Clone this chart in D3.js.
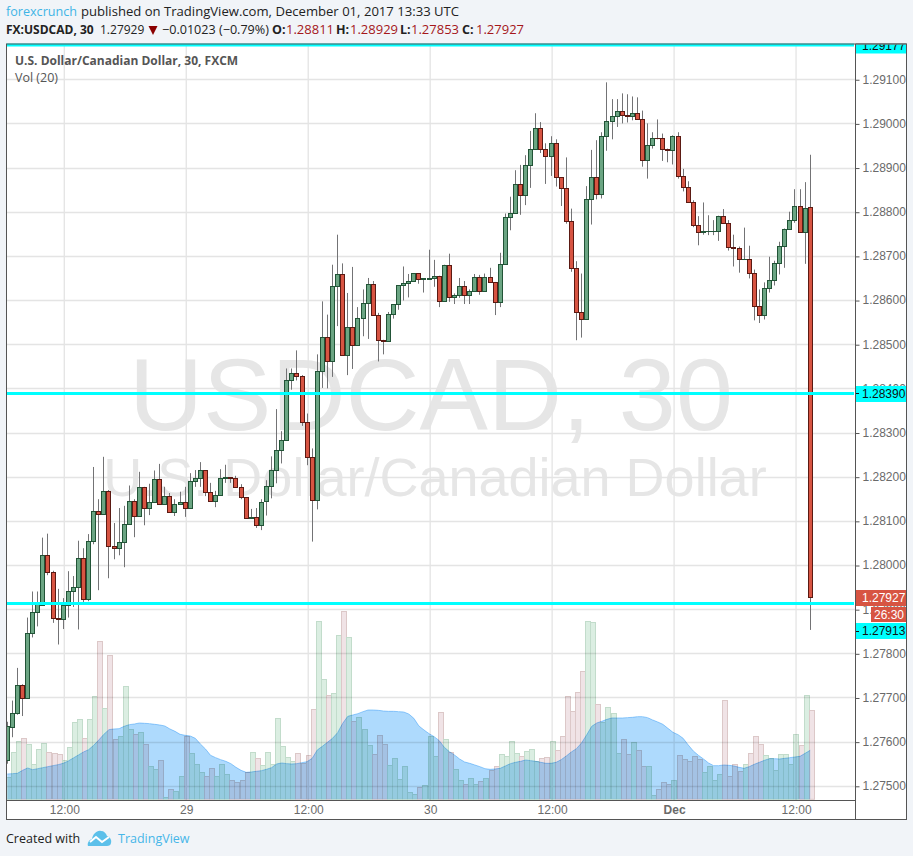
<!DOCTYPE html>
<html><head><meta charset="utf-8">
<script src="https://cdn.jsdelivr.net/npm/d3@7"></script>
<style>
html,body{margin:0;padding:0;background:#f1f4f8}
svg{display:block}
text{font-family:"Open Sans",sans-serif}
.ax text{font-family:"Liberation Sans",Arial,sans-serif}
</style></head><body><div id="c"></div>
<script>
const opens=[1.27558,1.27634,1.27664,1.27728,1.27699,1.27846,1.27893,1.27910,1.28023,1.27984,
1.27880,1.27878,1.27909,1.27941,1.27950,1.28016,1.27923,1.28054,1.28122,1.28115,
1.28167,1.28043,1.28038,1.28052,1.28093,1.28145,1.28111,1.28177,1.28129,1.28143,
1.28195,1.28138,1.28156,1.28120,1.28138,1.28143,1.28129,1.28190,1.28197,1.28215,
1.28165,1.28145,1.28158,1.28197,1.28199,1.28197,1.28177,1.28154,1.28106,1.28109,
1.28090,1.28144,1.28178,1.28214,1.28260,1.28284,1.28419,1.28435,1.28428,1.28324,
1.28244,1.28148,1.28440,1.28517,1.28462,1.28632,1.28659,1.28476,1.28539,1.28498,
1.28560,1.28594,1.28637,1.28566,1.28510,1.28507,1.28569,1.28591,1.28634,1.28639,
1.28643,1.28661,1.28648,1.28648,1.28650,1.28655,1.28598,1.28680,1.28607,1.28612,
1.28632,1.28612,1.28621,1.28652,1.28621,1.28652,1.28641,1.28596,1.28682,1.28787,
1.28796,1.28862,1.28837,1.28905,1.28943,1.28989,1.28943,1.28927,1.28955,1.28878,
1.28853,1.28778,1.28672,1.28572,1.28558,1.28828,1.28878,1.28841,1.28971,1.29005,
1.29016,1.29027,1.29020,1.29016,1.29023,1.29009,1.28916,1.28952,1.28968,1.28966,
1.28941,1.28939,1.28971,1.28880,1.28857,1.28823,1.28771,1.28753,1.28756,1.28756,
1.28757,1.28791,1.28775,1.28721,1.28717,1.28693,1.28694,1.28662,1.28587,1.28567,
1.28628,1.28646,1.28683,1.28723,1.28762,1.28782,1.28814,1.28755,1.28811];
const highs=[1.27645,1.27693,1.27767,1.27730,1.27881,1.27940,1.27940,1.28062,1.28071,1.27987,
1.27946,1.27925,1.27986,1.27975,1.28055,1.28038,1.28070,1.28222,1.28149,1.28245,
1.28170,1.28095,1.28129,1.28134,1.28180,1.28149,1.28211,1.28177,1.28184,1.28214,
1.28229,1.28177,1.28163,1.28149,1.28166,1.28177,1.28208,1.28215,1.28233,1.28215,
1.28186,1.28168,1.28217,1.28227,1.28199,1.28202,1.28183,1.28154,1.28127,1.28129,
1.28149,1.28192,1.28246,1.28353,1.28303,1.28445,1.28445,1.28486,1.28430,1.28343,
1.28264,1.28477,1.28597,1.28567,1.28680,1.28748,1.28683,1.28616,1.28675,1.28584,
1.28624,1.28650,1.28643,1.28571,1.28510,1.28573,1.28591,1.28634,1.28676,1.28659,
1.28661,1.28661,1.28649,1.28714,1.28691,1.28655,1.28680,1.28705,1.28615,1.28650,
1.28643,1.28624,1.28659,1.28657,1.28660,1.28673,1.28641,1.28707,1.28796,1.28834,
1.28894,1.28906,1.28928,1.28983,1.29023,1.29003,1.28955,1.28971,1.28964,1.28878,
1.28923,1.28807,1.28688,1.28660,1.28858,1.28940,1.28962,1.28980,1.29093,1.29055,
1.29055,1.29068,1.29066,1.29061,1.29059,1.29029,1.29000,1.28980,1.29009,1.28977,
1.28943,1.28973,1.28980,1.28897,1.28869,1.28826,1.28790,1.28821,1.28792,1.28781,
1.28791,1.28806,1.28781,1.28748,1.28721,1.28764,1.28723,1.28669,1.28624,1.28640,
1.28698,1.28689,1.28732,1.28762,1.28800,1.28851,1.28851,1.28867,1.28929];
const lows=[1.27550,1.27610,1.27661,1.27658,1.27699,1.27836,1.27861,1.27910,1.27977,1.27869,
1.27820,1.27855,1.27881,1.27905,1.27854,1.27914,1.27918,1.28047,1.27943,1.28115,
1.27970,1.28013,1.28022,1.27995,1.28093,1.28063,1.28111,1.28090,1.28113,1.28143,
1.28138,1.28138,1.28120,1.28111,1.28138,1.28109,1.28127,1.28177,1.28177,1.28156,
1.28145,1.28131,1.28158,1.28186,1.28186,1.28177,1.28149,1.28106,1.28106,1.28084,
1.28079,1.28112,1.28151,1.28185,1.28230,1.28284,1.28397,1.28418,1.28315,1.28226,
1.28053,1.28126,1.28401,1.28400,1.28426,1.28541,1.28476,1.28430,1.28444,1.28498,
1.28518,1.28512,1.28566,1.28461,1.28477,1.28507,1.28558,1.28578,1.28599,1.28606,
1.28643,1.28637,1.28617,1.28646,1.28630,1.28584,1.28598,1.28596,1.28591,1.28605,
1.28591,1.28591,1.28621,1.28612,1.28621,1.28641,1.28566,1.28584,1.28681,1.28758,
1.28796,1.28793,1.28815,1.28854,1.28943,1.28933,1.28863,1.28881,1.28857,1.28813,
1.28773,1.28664,1.28509,1.28515,1.28556,1.28771,1.28828,1.28830,1.28938,1.28964,
1.28992,1.29000,1.29002,1.29007,1.29009,1.28902,1.28875,1.28943,1.28964,1.28915,
1.28912,1.28907,1.28875,1.28846,1.28821,1.28765,1.28724,1.28748,1.28747,1.28747,
1.28734,1.28775,1.28712,1.28676,1.28662,1.28692,1.28649,1.28554,1.28548,1.28556,
1.28617,1.28633,1.28658,1.28673,1.28762,1.28775,1.28755,1.28682,1.27853];
const closes=[1.27635,1.27664,1.27728,1.27699,1.27846,1.27893,1.27914,1.28023,1.27984,1.27880,
1.27878,1.27909,1.27941,1.27950,1.28016,1.27923,1.28054,1.28122,1.28115,1.28167,
1.28043,1.28038,1.28052,1.28093,1.28145,1.28111,1.28177,1.28129,1.28143,1.28195,
1.28138,1.28156,1.28120,1.28138,1.28143,1.28129,1.28190,1.28197,1.28215,1.28165,
1.28145,1.28158,1.28197,1.28199,1.28197,1.28177,1.28154,1.28106,1.28109,1.28090,
1.28143,1.28178,1.28214,1.28260,1.28284,1.28418,1.28435,1.28428,1.28324,1.28244,
1.28148,1.28440,1.28517,1.28462,1.28632,1.28659,1.28476,1.28539,1.28498,1.28560,
1.28594,1.28637,1.28566,1.28510,1.28507,1.28569,1.28591,1.28634,1.28639,1.28643,
1.28661,1.28648,1.28649,1.28650,1.28655,1.28598,1.28680,1.28607,1.28612,1.28632,
1.28612,1.28621,1.28652,1.28621,1.28652,1.28641,1.28596,1.28682,1.28787,1.28796,
1.28862,1.28837,1.28905,1.28943,1.28989,1.28943,1.28927,1.28955,1.28878,1.28853,
1.28778,1.28672,1.28572,1.28558,1.28828,1.28878,1.28841,1.28971,1.29005,1.29016,
1.29027,1.29020,1.29016,1.29023,1.29009,1.28916,1.28952,1.28968,1.28966,1.28941,
1.28939,1.28971,1.28880,1.28857,1.28823,1.28771,1.28753,1.28757,1.28757,1.28757,
1.28791,1.28775,1.28721,1.28717,1.28694,1.28694,1.28662,1.28587,1.28567,1.28628,
1.28646,1.28683,1.28723,1.28762,1.28782,1.28814,1.28755,1.28809,1.27927];
const volumes=[68,141,174,183,165,105,150,168,141,138,
135,117,156,231,240,183,240,309,474,273,
432,180,189,339,210,195,201,165,99,90,
117,6,30,24,69,189,138,105,81,69,
93,69,105,75,57,51,57,81,141,123,
102,141,105,243,159,126,114,138,108,132,
270,534,360,312,318,492,564,486,234,246,
210,162,135,192,165,102,123,60,99,21,
15,36,42,189,129,261,180,141,90,57,
45,63,45,54,63,87,99,135,129,174,
138,129,144,150,114,123,126,174,147,189,
309,264,321,384,534,531,285,231,276,258,
138,180,135,171,147,99,99,12,30,51,
45,57,132,120,114,129,120,81,99,57,
75,297,69,105,84,105,138,189,165,132,
123,87,135,135,105,195,162,312,267];
const volumeMA=[76,77,78,87,94,89,92,95,98,101,
104,108,115,124,133,142,149,162,178,195,
209,211,212,219,224,226,229,228,227,225,
223,220,211,204,195,192,190,183,166,151,
132,125,119,114,107,96,87,81,82,84,
86,90,95,106,109,107,106,107,110,113,
123,148,159,171,183,200,228,249,253,257,
263,268,268,267,265,264,264,263,262,256,
243,220,208,197,188,176,156,143,133,121,
112,108,103,98,92,90,91,93,100,107,
111,114,118,116,114,111,108,108,111,119,
130,142,152,169,193,219,229,234,240,244,
244,244,245,246,248,248,245,238,232,225,
213,201,194,183,163,145,132,121,109,101,
101,103,102,100,96,93,98,105,111,117,
122,122,121,123,125,127,129,138,147];
const priceTicks=[1.291,1.290,1.289,1.288,1.287,1.286,1.285,1.284,1.283,1.282,1.281,1.280,1.279,1.278,1.277,1.276,1.275];
const timeTickIndex=[11,35,59,83,107,131,155];
const timeTickLabels=['12:00','29','12:00','30','12:00','Dec','12:00'];
const levels=[1.29177,1.28390,1.27913];

const W=913,H=856;
const L=6.5,R=855.5,RO=906.5,T=44,B=800.5,BO=819.5;
const x=d3.scaleLinear().domain([0,158]).range([7.3,810.2]);
const y=d3.scaleLinear().domain([1.275,1.29]).range([785.8,123.4]);
const v=d3.scaleLinear().domain([0,600]).range([799.3,599.3]);
const idx=d3.range(closes.length);
const GREEN='#6ba583',GREENB='#225437',RED='#d75442',REDB='#5b1a13',WICK='#737375';
const up=i=>closes[i]>=opens[i];
const fmt=d3.format('.5f');

const svg=d3.select('#c').append('svg').attr('width',W).attr('height',H);
svg.append('rect').attr('width',W).attr('height',H).attr('fill','#f1f4f8');
svg.append('rect').attr('x',L).attr('y',T).attr('width',RO-L).attr('height',BO-T).attr('fill','#fff');
const defs=svg.append('defs');
defs.append('clipPath').attr('id','plot').append('rect').attr('x',L+.5).attr('y',T).attr('width',R-L-.5).attr('height',B-T);
const plot=svg.append('g').attr('clip-path','url(#plot)').style('isolation','isolate');
plot.append('rect').attr('x',L).attr('y',T).attr('width',R-L).attr('height',B-T).attr('fill','#fff');

// watermark
plot.append('text').attr('x',431).attr('y',430).attr('text-anchor','middle')
 .style('font-family','"Liberation Sans",Arial,sans-serif').style('font-size','102.5px').attr('fill','#e6e6e6').text('USDCAD, 30');
plot.append('text').attr('x',435).attr('y',496).attr('text-anchor','middle')
 .style('font-family','"Liberation Sans",Arial,sans-serif').style('font-size','54px').attr('fill','#e6e6e6').text('U.S. Dollar/Canadian Dollar');

// grid
plot.append('g').selectAll('line').data(priceTicks).join('line')
 .attr('x1',L).attr('x2',R).attr('y1',d=>Math.round(y(d))+.5).attr('y2',d=>Math.round(y(d))+.5)
 .attr('stroke','#e4e4e4').attr('stroke-width',1.3);
plot.append('g').selectAll('line').data(timeTickIndex).join('line')
 .attr('y1',T).attr('y2',B).attr('x1',d=>x(d)+1.1).attr('x2',d=>x(d)+1.1)
 .attr('stroke','#e4e4e4').attr('stroke-width',1.3);

// volume MA area
const area=d3.area().x(i=>x(i)).y0(v(0)).y1(i=>v(volumeMA[i]));
plot.append('path').datum(idx).attr('d',area).attr('fill','#aedafd').style('mix-blend-mode','multiply');
plot.append('path').datum(idx).attr('d',d3.line().x(i=>x(i)).y(i=>v(volumeMA[i]))).attr('fill','none').attr('stroke','#9fd3fb').attr('stroke-width',1).style('mix-blend-mode','multiply');

// volume bars
plot.append('g').style('mix-blend-mode','multiply').selectAll('rect').data(idx).join('rect')
 .attr('x',i=>Math.floor(x(i))-.5).attr('width',5)
 .attr('y',i=>Math.round(v(volumes[i]))+.5).attr('height',i=>Math.max(0,v(0)-Math.round(v(volumes[i]))-.5))
 .attr('fill',i=>up(i)?'#dbeee2':'#f0e3e6')
 .attr('stroke',i=>up(i)?'#c2dccb':'#dcc8c8').attr('stroke-width',1);

// candles
const cg=plot.append('g');
cg.selectAll('rect.w').data(idx).join('rect').attr('class','w')
 .attr('x',i=>Math.floor(x(i))).attr('width',1)
 .attr('y',i=>y(highs[i])).attr('height',i=>y(lows[i])-y(highs[i])).attr('fill',WICK);
cg.selectAll('rect.b').data(idx).join('rect').attr('class','b')
 .attr('x',i=>Math.floor(x(i))-1.5).attr('width',4)
 .attr('y',i=>Math.round(y(Math.max(opens[i],closes[i])))+.5)
 .attr('height',i=>Math.max(.01,Math.round(y(Math.min(opens[i],closes[i])))-Math.round(y(Math.max(opens[i],closes[i])))))
 .attr('fill',i=>up(i)?GREEN:RED).attr('stroke',i=>up(i)?GREENB:REDB).attr('stroke-width',1);

// horizontal levels
const levelY=d=>Math.round(y(d))+.5;
plot.append('g').selectAll('line').data(levels.slice(1)).join('line')
 .attr('x1',L).attr('x2',R-1.5).attr('y1',levelY).attr('y2',levelY).attr('stroke','#00ffff').attr('stroke-width',3);
svg.append('line').attr('x1',L).attr('x2',R-1.5).attr('y1',45).attr('y2',45).attr('stroke','#00ffff').attr('stroke-width',3);

// frame
const frame=svg.append('g').attr('fill','none').attr('stroke','#555');
frame.append('rect').attr('x',L).attr('y',T).attr('width',RO-L).attr('height',BO-T);
frame.append('line').attr('x1',R).attr('x2',R).attr('y1',T).attr('y2',BO);
frame.append('line').attr('x1',L).attr('x2',R).attr('y1',B).attr('y2',B);

// axes
const yAxis=d3.axisRight(y).tickValues(priceTicks).tickSize(4).tickPadding(3).tickFormat(fmt);
const ya=svg.append('g').attr('class','ax').attr('transform',`translate(${R},0)`).call(yAxis);
ya.select('.domain').remove();
ya.selectAll('line').attr('stroke','#555').attr('y1',.5).attr('y2',.5);
ya.selectAll('text').style('font-size','12px').attr('fill','#6a6a6a');
const xAxis=d3.axisBottom(x).tickValues(timeTickIndex).tickSize(0).tickPadding(5).tickFormat((d,i)=>timeTickLabels[i]);
const xa=svg.append('g').attr('class','ax').attr('transform',`translate(1.1,${B})`).call(xAxis);
xa.select('.domain').remove();
xa.selectAll('text').style('font-size','12px').attr('fill','#6a6a6a').style('font-weight',(d,i)=>timeTickLabels[i]==='Dec'?'bold':'normal');

// price labels on the scale
function tag(x0,x1,y0,y1,fill,txt,col,tx){
 svg.append('rect').attr('x',x0).attr('y',y0).attr('width',x1-x0).attr('height',y1-y0).attr('fill',fill);
 svg.append('text').attr('x',tx).attr('y',(y0+y1)/2+4.3).attr('fill',col)
  .style('font-family','"Liberation Sans",Arial,sans-serif').style('font-size','12px').text(txt);
}
tag(856,906,386,402,'#00ffff',fmt(levels[1]),'#111',862);
tag(856,906,590,606,'#d75442',fmt(closes[158]),'#fff',862);
tag(871,906,607,622,'#d75442','26:30','#fff',874);
tag(856,906,623,639,'#00ffff',fmt(levels[2]),'#111',862);
svg.append('line').attr('x1',856).attr('x2',859).attr('y1',393.5).attr('y2',393.5).attr('stroke','#111');
svg.append('line').attr('x1',856).attr('x2',859).attr('y1',631.5).attr('y2',631.5).attr('stroke','#111');
svg.append('rect').attr('x',856).attr('y',44.5).attr('width',50).attr('height',9).attr('fill','#00ffff');
defs.append('clipPath').attr('id','topTag').append('rect').attr('x',856).attr('y',44.5).attr('width',50).attr('height',9);
svg.append('text').attr('x',862).attr('y',49.5).attr('clip-path','url(#topTag)').attr('fill','#111')
 .style('font-family','"Liberation Sans",Arial,sans-serif').style('font-size','12px').text(fmt(levels[0]));
svg.append('line').attr('x1',R).attr('x2',R).attr('y1',T).attr('y2',B).attr('stroke','#555');
svg.append('line').attr('x1',RO).attr('x2',RO).attr('y1',T).attr('y2',BO).attr('stroke','#555');
svg.append('line').attr('x1',R).attr('x2',RO).attr('y1',T).attr('y2',T).attr('stroke','#555');

// header
const t=(s,px,py,o={})=>svg.append('text').attr('x',px).attr('y',py).attr('fill',o.c||'#222')
 .style('font-size',(o.s||13)+'px').style('font-weight',o.b?'bold':'normal').text(s);
t('forexcrunch',6,16,{c:'#3fb4e6',s:12.6});
t('published on TradingView.com, December 01, 2017 13:33 UTC',81,16,{s:13.1});
t('FX:USDCAD, 30',6,34,{b:1,s:12});
t('1.27929',100,34,{s:12});
svg.append('path').attr('d','M148.5,26h9l-4.5,9z').attr('fill','#8b0000');
t('−0.01023 (−0.79%)',162,34,{s:12.6});
const dark='#a5171b';
[['O:',272,286,opens[158]],['H:',336,350,highs[158]],['L:',400,411,lows[158]],['C:',462,476,closes[158]]].forEach(d=>{
 t(d[0],d[1],34,{b:1,s:12.5}); t(fmt(d[3]),d[2],34,{c:dark});
});
t('U.S. Dollar/Canadian Dollar, 30, FXCM',15,65,{c:'#555',b:1,s:12});
t('Vol (20)',15,82,{c:'#555',s:12.5});

// footer
t('Created with',6,843,{c:'#222',s:12.5});
const logo=svg.append('g');
logo.append('path').attr('d','M88,846c-1,-3 1,-6 4,-7c1,-5 5,-9 9,-8c3,0 5,2 6,5c3,1 5,4 4,7c0,2 -2,3 -4,3z').attr('fill','#5cc0ea');
logo.append('path').attr('d','M90,842l6,-5l6,5l7,-5').attr('fill','none').attr('stroke','#fff').attr('stroke-width',2);
t('TradingView',118,843,{c:'#46b6e8',s:12.5});
</script></body></html>
